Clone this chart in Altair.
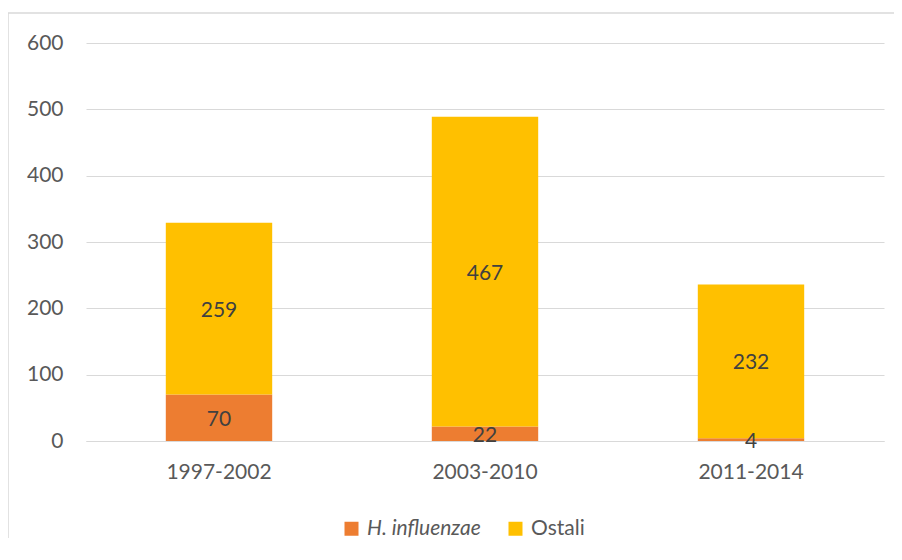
import altair as alt
import pandas as pd

periods = ["1997-2002", "2003-2010", "2011-2014"]
series = ["H. influenzae", "Ostali"]
hib = [70, 22, 4]
ostali = [259, 467, 232]
colors = ["#ED7D31", "#FFC000"]
y_ticks = [0, 100, 200, 300, 400, 500, 600]

rows = []
for i, p in enumerate(periods):
    rows.append({"period": p, "series": series[0], "value": hib[i], "k": 0})
    rows.append({"period": p, "series": series[1], "value": ostali[i], "k": 1})
df = pd.DataFrame(rows)

FONT = "Lato"
FS = 21
GRID = "#D9D9D9"
LBL = "#595959"

base = alt.Chart(df).transform_stack(
    stack="value", as_=["y0", "y1"], groupby=["period"],
    sort=[alt.SortField("k", order="ascending")]
).transform_calculate(mid="(datum.y0 + datum.y1) / 2")

x = alt.X("period:N", sort=periods,
          scale=alt.Scale(paddingInner=0.6, paddingOuter=0.3),
          axis=alt.Axis(title=None, labelAngle=0, domain=True, domainColor=GRID,
                        ticks=False, labelPadding=20, labelFontSize=FS,
                        labelColor=LBL, labelFont=FONT, grid=False))

yscale = alt.Scale(domain=[0, 600], nice=False)

bars = base.mark_bar().encode(
    x=x,
    y=alt.Y("y0:Q", scale=yscale,
            axis=alt.Axis(title=None, values=y_ticks, domain=False, ticks=False,
                          labelPadding=23, labelFontSize=FS, labelColor=LBL,
                          labelFont=FONT, grid=True, gridColor=GRID, gridWidth=1)),
    y2="y1:Q",
    color=alt.Color("series:N", scale=alt.Scale(domain=series, range=colors),
                    legend=alt.Legend(title=None, orient="none", legendX=255, legendY=475,
                                      direction="horizontal", symbolType="square",
                                      symbolSize=196, symbolStrokeWidth=0,
                                      labelFontSize=FS, labelColor=LBL, labelFont=FONT,
                                      labelFontStyle=alt.ExprRef("datum.label == 'H. influenzae' ? 'italic' : 'normal'"),
                                      columnPadding=24, labelOffset=5)),
)

labels = base.mark_text(font=FONT, fontSize=FS, color="#404040", dy=2).encode(
    x=alt.X("period:N", sort=periods),
    y=alt.Y("mid:Q", scale=yscale),
    text="value:Q",
)

frame_src = pd.DataFrame({"a": [0]})
frame_top = alt.Chart(frame_src).mark_rule(stroke=GRID, strokeWidth=1.5).encode(
    x=alt.value(-78), x2=alt.value(808), y=alt.value(-30))
frame_left = alt.Chart(frame_src).mark_rule(stroke=GRID, strokeWidth=1.5).encode(
    x=alt.value(-78), y=alt.value(-30), y2=alt.value(495))

chart = alt.layer(frame_top, frame_left, bars, labels).properties(
    width=798, height=398,
    padding={"left": 78, "top": 35, "right": 10, "bottom": 97},
    autosize=alt.AutoSizeParams(type="none"),
    background="white",
).configure_view(stroke=None)

chart.save("out.html", embed_options={"renderer": "svg", "actions": False})
